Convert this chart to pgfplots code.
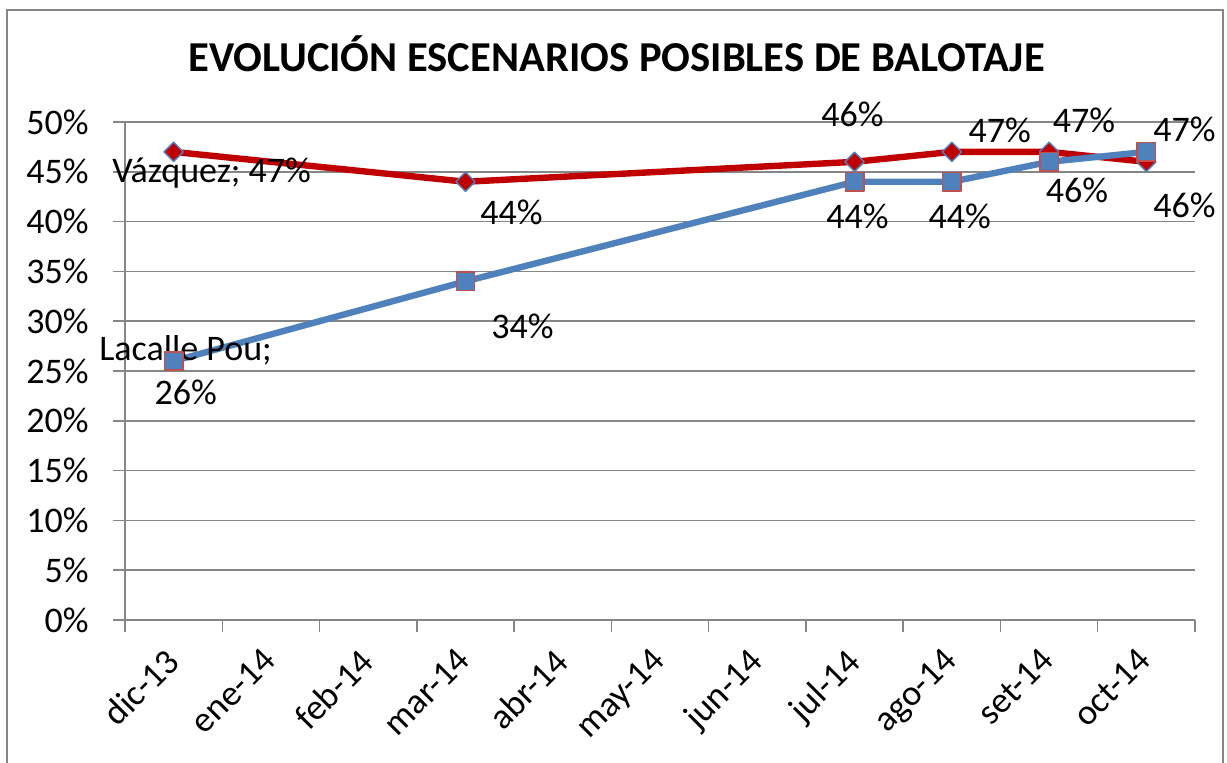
\documentclass[border=0pt]{standalone}
\usepackage{pgfplots}
\pgfplotsset{compat=1.18}
\usepackage{fontspec}
\setmainfont{Carlito}
\definecolor{vred}{HTML}{C00000}
\definecolor{lblue}{HTML}{4F81BD}
\definecolor{mred}{HTML}{C0504D}
\definecolor{gridgray}{HTML}{868686}
\tikzset{lbl/.style={anchor=base, inner sep=0pt, font=\fontsize{18}{22}\selectfont}}
\begin{document}
\begin{tikzpicture}
\useasboundingbox (0,0) rectangle (613.5pt,381.5pt);
\draw[gridgray, line width=1pt] (3.5pt,-20pt) rectangle (611.5pt,376.5pt);
\node[anchor=base, font=\fontsize{21.3}{25}\selectfont\bfseries, inner sep=0pt] at (308.25pt,345.5pt) {EVOLUCIÓN ESCENARIOS POSIBLES DE BALOTAJE};
\begin{axis}[
 at={(62.5pt,71.5pt)}, anchor=south west,
 scale only axis, width=535pt, height=249pt,
 xmin=-0.5, xmax=10.5, ymin=0, ymax=50,
 axis x line=bottom, axis y line=left,
 axis line style={-, draw=gridgray, line width=0.75pt},
 xtick={0,...,10},
 xticklabels={dic-13,ene-14,feb-14,mar-14,abr-14,may-14,jun-14,jul-14,ago-14,set-14,oct-14},
 minor xtick={-0.5,0.5,...,10.5},
 major x tick style={draw=none},
 ytick={0,5,...,50},
 yticklabels={0\%,5\%,10\%,15\%,20\%,25\%,30\%,35\%,40\%,45\%,50\%},
 ymajorgrids, grid style={draw=gridgray, line width=0.75pt},
 tick align=outside,
 major tick length=6pt, minor tick length=6pt,
 tick style={draw=gridgray, line width=0.75pt},
 ticklabel style={font=\fontsize{18}{22}\selectfont},
 xticklabel style={xshift=-5pt, yshift=-7pt, rotate=45, anchor=north east, inner sep=0pt},
 yticklabel style={anchor=east, inner sep=0pt, xshift=-12pt},
 clip=false,
]
\addplot[vred, line width=3.2pt, line join=round, mark=square*, mark size=3.4pt,
  mark options={rotate=45, fill=vred, draw=lblue, line width=0.75pt}]
  coordinates {(0,47) (3,44) (7,46) (8,47) (9,47) (10,46)};
\addplot[lblue, line width=3.2pt, line join=round, mark=square*, mark size=4.6pt,
  mark options={fill=lblue, draw=mred, line width=0.75pt}]
  coordinates {(0,26) (3,34) (7,44) (8,44) (9,46) (10,47)};
% data labels Vazquez
\node[lbl, xshift=19pt, yshift=-15.5pt] at (axis cs:0,47) {Vázquez; 47\%};
\node[lbl, xshift=23pt, yshift=-21.5pt] at (axis cs:3,44) {44\%};
\node[lbl, xshift=-1pt, yshift=17.5pt] at (axis cs:7,46) {46\%};
\node[lbl, xshift=24pt, yshift=4.5pt] at (axis cs:8,47) {47\%};
\node[lbl, xshift=17.5pt, yshift=9.5pt] at (axis cs:9,47) {47\%};
\node[lbl, xshift=19pt, yshift=-28pt] at (axis cs:10,46) {46\%};
% data labels Lacalle Pou
\node[lbl, xshift=6pt, yshift=0.5pt] at (axis cs:0,26) {Lacalle Pou;};
\node[lbl, xshift=6pt, yshift=-21.5pt] at (axis cs:0,26) {26\%};
\node[lbl, xshift=28.5pt, yshift=-28.5pt] at (axis cs:3,34) {34\%};
\node[lbl, xshift=1.5pt, yshift=-23.5pt] at (axis cs:7,44) {44\%};
\node[lbl, xshift=4pt, yshift=-23.5pt] at (axis cs:8,44) {44\%};
\node[lbl, xshift=14pt, yshift=-20.5pt] at (axis cs:9,46) {46\%};
\node[lbl, xshift=19pt, yshift=5pt] at (axis cs:10,47) {47\%};
\end{axis}
\end{tikzpicture}
\end{document}
